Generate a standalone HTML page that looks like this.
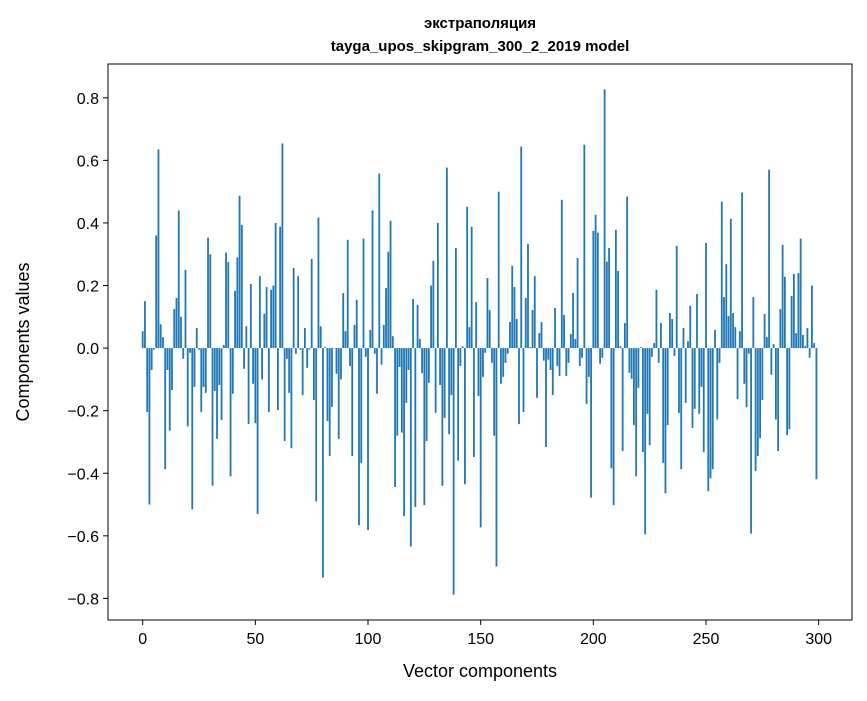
<!DOCTYPE html>
<html><head><meta charset="utf-8"><style>
body{margin:0;background:#fff;}
svg text{font-family:"Liberation Sans","DejaVu Sans",sans-serif;fill:#000;}
</style></head><body>
<svg id="chart" width="867" height="696">
<text x="480" y="28" text-anchor="middle" font-size="15" font-weight="bold">экстраполяция</text>
<text x="480" y="51" text-anchor="middle" font-size="15" font-weight="bold">tayga_upos_skipgram_300_2_2019 model</text>
<g id="bars"></g>
<rect x="108" y="64" width="744" height="556" fill="none" stroke="#000" stroke-width="1"/>
<g id="xticks"></g>
<g id="yticks"></g>
<text x="480" y="677" text-anchor="middle" font-size="18">Vector components</text>
<text transform="translate(29,342) rotate(-90)" text-anchor="middle" font-size="18">Components values</text>
</svg>
<script>
const values=[0.054,0.15,-0.204,-0.5,-0.07,-0.005,0.36,0.635,0.076,0.035,-0.387,-0.07,-0.264,-0.134,0.125,0.16,0.44,0.1,-0.034,0.25,-0.25,-0.015,-0.515,-0.124,0.064,-0.005,-0.204,-0.124,-0.143,0.353,0.3,-0.44,-0.137,-0.29,-0.118,-0.23,0.01,0.305,0.275,-0.41,-0.146,0.183,0.29,0.487,0.394,-0.066,0.07,-0.243,0.205,-0.114,
-0.24,-0.53,0.23,-0.1,0.11,0.195,-0.204,0.186,0.2,0.4,-0.198,0.388,0.654,-0.297,-0.034,-0.143,-0.32,0.256,-0.018,0.23,-0.005,-0.15,0.064,-0.063,-0.005,0.285,-0.166,-0.49,0.417,0.07,-0.733,0.003,-0.233,-0.345,-0.188,0,-0.082,-0.29,-0.1,0.176,0.054,0.346,-0.057,-0.345,0.074,0.154,-0.566,-0.367,0.35,-0.028,
-0.582,0.058,0.44,-0.018,-0.146,0.558,-0.053,0.074,0.192,0.308,0.407,0.038,-0.444,-0.28,-0.06,-0.27,-0.537,-0.175,-0.07,-0.634,0.157,-0.508,0.138,0.029,-0.08,-0.502,-0.297,-0.111,0.2,0.279,-0.207,0.4,-0.118,-0.44,-0.223,0.577,-0.275,-0.15,-0.788,0.32,-0.36,-0.057,0.006,-0.435,0.452,0.067,0.388,-0.348,0.147,-0.153,
-0.573,-0.092,-0.015,0.224,0.122,-0.047,-0.28,-0.698,0.5,-0.114,-0.092,-0.047,-0.018,0.083,0.263,0.195,0.093,-0.243,0.644,-0.204,0.16,0.333,0.003,0.122,0.23,-0.159,0.048,0.083,-0.04,-0.316,-0.037,-0.07,-0.15,0.128,-0.057,-0.089,0.474,0.106,-0.089,-0.047,0.045,0.176,0.029,0.288,-0.057,-0.031,0.65,-0.178,-0.092,-0.478,
0.375,0.426,0.369,-0.05,-0.031,0.827,0.276,0.32,-0.384,-0.502,0.378,0.247,0.006,-0.329,0.08,0.484,-0.079,-0.098,-0.246,-0.41,-0.127,0.003,-0.332,-0.595,-0.21,-0.31,-0.028,0.016,0.186,-0.047,0.08,-0.367,-0.464,-0.246,0.112,0.093,-0.025,0.327,-0.207,-0.387,0.064,-0.175,0.022,0.135,-0.255,-0.194,0.173,-0.21,-0.124,-0.333,
0.336,-0.457,-0.416,-0.387,0.058,-0.228,-0.047,0.468,0.163,0.268,0.103,0.413,0.112,0.067,-0.163,0.054,0.497,-0.114,-0.189,-0.018,-0.593,0.163,-0.393,-0.345,-0.288,-0.166,0.109,0.035,0.57,-0.085,0.013,-0.228,-0.329,0.125,0.33,0.228,-0.278,-0.259,0.167,0.237,0.048,0.24,0.35,0.042,0.006,0.064,-0.031,0.2,0.016,-0.419];
const xTicks=[0,50,100,150,200,250,300];
const yTicks=[-0.8,-0.6,-0.4,-0.2,0,0.2,0.4,0.6,0.8];
const L=108,R=852,T=64,B=620,XMIN=-15.39,XMAX=314.79,YMIN=-0.869,YMAX=0.908;
const NS="http://www.w3.org/2000/svg";
function xs(v){return L+(v-XMIN)/(XMAX-XMIN)*(R-L);}
function ys(v){return B-(v-YMIN)/(YMAX-YMIN)*(B-T);}
const gb=document.getElementById('bars');
values.forEach((v,i)=>{
  const r=document.createElementNS(NS,'rect');
  const x0=xs(i-0.4),x1=xs(i+0.4),y0=ys(Math.max(v,0)),y1=ys(Math.min(v,0));
  r.setAttribute('x',x0);r.setAttribute('width',x1-x0);
  r.setAttribute('y',y0);r.setAttribute('height',Math.max(y1-y0,0.3));
  r.setAttribute('fill','#1f77b4');
  
  
  gb.appendChild(r);
});
const gx=document.getElementById('xticks');
xTicks.forEach(t=>{
  const l=document.createElementNS(NS,'line');
  l.setAttribute('x1',xs(t));l.setAttribute('x2',xs(t));l.setAttribute('y1',B);l.setAttribute('y2',B+5);l.setAttribute('stroke','#000');
  
  
  gx.appendChild(l);
  const tx=document.createElementNS(NS,'text');
  tx.setAttribute('x',xs(t));tx.setAttribute('y',B+24);tx.setAttribute('text-anchor','middle');tx.setAttribute('font-size','16');
  tx.textContent=t;
  
  
  gx.appendChild(tx);
});
const gy=document.getElementById('yticks');
yTicks.forEach(t=>{
  const l=document.createElementNS(NS,'line');
  l.setAttribute('x1',L-5);l.setAttribute('x2',L);l.setAttribute('y1',ys(t));l.setAttribute('y2',ys(t));l.setAttribute('stroke','#000');
  
  
  gy.appendChild(l);
  const tx=document.createElementNS(NS,'text');
  tx.setAttribute('x',L-9);tx.setAttribute('y',ys(t)+6);tx.setAttribute('text-anchor','end');tx.setAttribute('font-size','16');
  tx.textContent=(t<0?'\u2212':'')+Math.abs(t).toFixed(1);
  
  
  gy.appendChild(tx);
});
</script>
</body></html>
